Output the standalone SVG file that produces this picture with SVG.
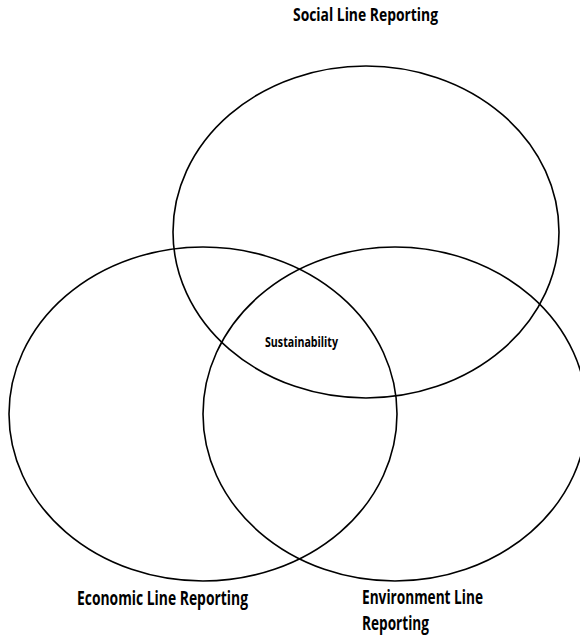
<svg xmlns="http://www.w3.org/2000/svg" width="580" height="637" viewBox="0 0 580 637">
<style>
.c{fill:none;stroke:#000;stroke-width:1.6}
.t{font-family:"Open Sans","Liberation Sans",sans-serif;font-weight:bold;fill:#000}
</style>
<rect width="580" height="637" fill="#fff"/>
<g id="social"><ellipse class="c" cx="366" cy="232" rx="193" ry="166"/>
<text class="t" x="293" y="21" font-size="18" textLength="145" lengthAdjust="spacingAndGlyphs">Social Line Reporting</text></g>
<g id="economic"><ellipse class="c" cx="203" cy="414" rx="194" ry="167"/>
<text class="t" x="77" y="605" font-size="19" textLength="171" lengthAdjust="spacingAndGlyphs">Economic Line Reporting</text></g>
<g id="environment"><ellipse class="c" cx="395" cy="414" rx="192" ry="167"/>
<text class="t" x="362" y="604" font-size="19" textLength="121" lengthAdjust="spacingAndGlyphs">Environment Line</text>
<text class="t" x="362" y="630" font-size="19" textLength="67" lengthAdjust="spacingAndGlyphs">Reporting</text></g>
<g id="center"><text class="t" x="265" y="347" font-size="15" textLength="73" lengthAdjust="spacingAndGlyphs">Sustainability</text></g>
<g id="connectors"/>
</svg>
